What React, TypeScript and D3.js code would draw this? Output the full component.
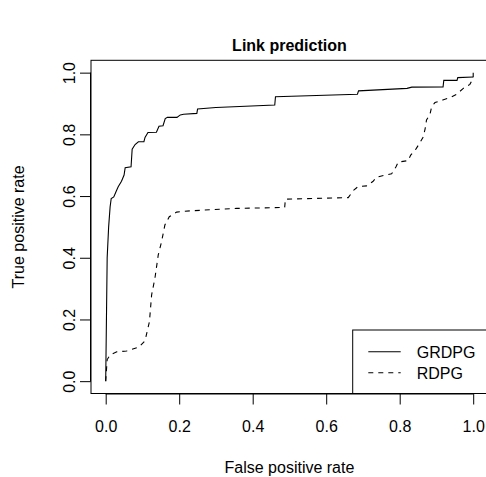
import * as d3 from 'd3';
import { useEffect, useRef } from 'react';

// ROC curve values
const grdpgFpr = [
  0, 0.002, 0.004, 0.008, 0.012, 0.015, 0.022, 0.028, 0.034, 0.043, 0.05, 0.053, 0.069, 0.072, 0.08, 0.089,
  0.104, 0.107, 0.115, 0.138, 0.145, 0.156, 0.162, 0.168, 0.194, 0.203, 0.212, 0.248, 0.25, 0.3, 0.46, 0.462,
  0.685, 0.688, 0.82, 0.833, 0.918, 0.92, 0.956, 0.958, 1.0,
];
const grdpgTpr = [
  0, 0.2, 0.4, 0.5, 0.565, 0.592, 0.597, 0.614, 0.63, 0.648, 0.668, 0.692, 0.695, 0.752, 0.767, 0.776,
  0.776, 0.79, 0.806, 0.807, 0.826, 0.828, 0.851, 0.855, 0.855, 0.863, 0.865, 0.868, 0.882, 0.887, 0.895, 0.922,
  0.93, 0.941, 0.949, 0.953, 0.954, 0.975, 0.975, 0.984, 0.986,
];
const rdpgFpr = [
  0, 0.004, 0.012, 0.03, 0.057, 0.09, 0.107, 0.119, 0.125, 0.134, 0.143, 0.152, 0.161, 0.173, 0.193, 0.229,
  0.356, 0.487, 0.489, 0.66, 0.674, 0.687, 0.71, 0.727, 0.737, 0.76, 0.778, 0.79, 0.796, 0.823, 0.83, 0.844,
  0.855, 0.864, 0.869, 0.873, 0.882, 0.887, 0.896, 0.919, 0.937, 0.955, 0.973, 0.991, 1.0, 1.0,
];
const rdpgTpr = [
  0, 0.07, 0.085, 0.095, 0.098, 0.11, 0.131, 0.193, 0.28, 0.334, 0.409, 0.452, 0.506, 0.533, 0.548, 0.552,
  0.56, 0.563, 0.59, 0.595, 0.618, 0.631, 0.633, 0.647, 0.661, 0.668, 0.672, 0.695, 0.71, 0.715, 0.733, 0.752,
  0.773, 0.791, 0.817, 0.847, 0.863, 0.89, 0.903, 0.912, 0.919, 0.93, 0.949, 0.962, 0.982, 1.0,
];
const tickValues = [0, 0.2, 0.4, 0.6, 0.8, 1.0];
const seriesNames = ['GRDPG', 'RDPG'];

const WIDTH = 486;
const HEIGHT = 477;
const FONT = '"Liberation Sans", Arial, sans-serif';

// plot region (R style, 4% padding on each side)
const left = 91;
const right = 487.9;
const top = 60.3;
const bottom = 393.5;

export default function App() {
  const xAxisRef = useRef<SVGGElement>(null);
  const yAxisRef = useRef<SVGGElement>(null);

  const x = d3.scaleLinear().domain([-0.04, 1.04]).range([left, right]);
  const y = d3.scaleLinear().domain([-0.04, 1.04]).range([bottom, top]);

  const pathFor = (fpr: number[], tpr: number[]) =>
    d3
      .line<number>()
      .x((d) => x(d))
      .y((_, i) => y(tpr[i]))(fpr) || '';

  useEffect(() => {
    // x axis
    const gx = d3.select(xAxisRef.current);
    gx.selectAll('*').remove();
    gx.call(d3.axisBottom(x).tickValues(tickValues).tickSize(11).tickFormat(d3.format('.1f')));
    gx.select('.domain').attr('d', `M${x(0)},0.5H${x(1)}`).attr('stroke', '#000');
    gx.selectAll('.tick line').attr('stroke', '#000');
    gx.selectAll('.tick text')
      .attr('y', 38.2)
      .attr('dy', 0)
      .attr('fill', '#000')
      .style('font-family', FONT)
      .style('font-size', '16px');

    // y axis, labels rotated like R
    const gy = d3.select(yAxisRef.current);
    gy.selectAll('*').remove();
    gy.call(d3.axisLeft(y).tickValues(tickValues).tickSize(11).tickFormat(d3.format('.1f')));
    gy.select('.domain').attr('d', `M-0.5,${y(0)}V${y(1)}`).attr('stroke', '#000');
    gy.selectAll('.tick line').attr('stroke', '#000');
    gy.selectAll('.tick text')
      .attr('transform', 'rotate(-90)')
      .attr('x', 0)
      .attr('y', -16)
      .attr('dy', 0)
      .attr('text-anchor', 'middle')
      .attr('fill', '#000')
      .style('font-family', FONT)
      .style('font-size', '16px');
  }, []);

  const legendX = 352.7;
  const legendY = 330;

  return (
    <div style={{ position: 'absolute', left: 0, top: 0 }}>
      <svg width={WIDTH} height={HEIGHT} style={{ display: 'block', background: '#fff' }}>
        <defs>
          <clipPath id="plotClip">
            <rect x={left} y={top} width={right - left} height={bottom - top} />
          </clipPath>
        </defs>
        <rect x={0} y={0} width={WIDTH} height={HEIGHT} fill="#fff" />
        <text x={(left + right) / 2} y={51} textAnchor="middle" fontFamily={FONT} fontWeight="bold" fontSize={16}>
          Link prediction
        </text>

        <g clipPath="url(#plotClip)">
          <path d={pathFor(grdpgFpr, grdpgTpr)} fill="none" stroke="#000" strokeWidth={1.1} />
          <path d={pathFor(rdpgFpr, rdpgTpr)} fill="none" stroke="#000" strokeWidth={1.1} strokeDasharray="5,5" />
        </g>

        {/* legend, bottom right */}
        <rect
          x={legendX}
          y={legendY}
          width={right - legendX}
          height={bottom - legendY}
          fill="#fff"
          stroke="#000"
          strokeWidth={1}
        />
        {seriesNames.map((name, i) => (
          <g key={name}>
            <line
              x1={368.3}
              x2={400.7}
              y1={351.7 + i * 21}
              y2={351.7 + i * 21}
              stroke="#000"
              strokeWidth={1.1}
              strokeDasharray={i === 1 ? '5,5' : undefined}
            />
            <text x={416.7} y={357.5 + i * 21.5} fontFamily={FONT} fontSize={16}>
              {name}
            </text>
          </g>
        ))}

        <rect x={left} y={top} width={right - left} height={bottom - top} fill="none" stroke="#000" strokeWidth={1} />
        <g ref={xAxisRef} transform={`translate(0,${bottom})`} />
        <g ref={yAxisRef} transform={`translate(${left},0)`} />

        <text x={(left + right) / 2} y={473} textAnchor="middle" fontFamily={FONT} fontSize={16}>
          False positive rate
        </text>
        <text
          transform={`translate(24,${(top + bottom) / 2}) rotate(-90)`}
          textAnchor="middle"
          fontFamily={FONT}
          fontSize={16}
        >
          True positive rate
        </text>
      </svg>
    </div>
  );
}
